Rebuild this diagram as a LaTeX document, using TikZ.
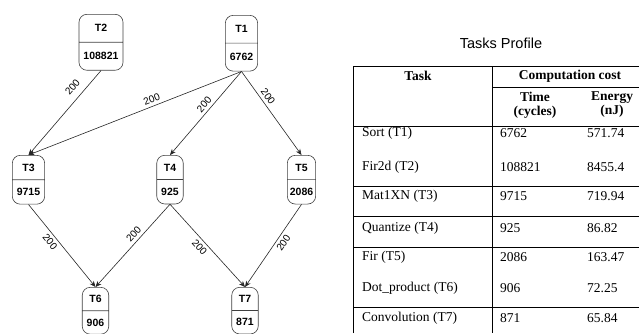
\documentclass[tikz,border=0pt]{standalone}
\usepackage{fontspec}
\setmainfont{Liberation Serif}
\setsansfont{Liberation Sans}
\usetikzlibrary{shapes.multipart,arrows.meta}

\begin{document}
\begin{tikzpicture}[x=1pt,y=-1pt]
  % Colors
  \colorlet{boxcolor}{black!75}
  \colorlet{edgecolor}{black!85}

  % Styles
  \tikzstyle{task}=[rectangle split,rectangle split parts=2,draw=boxcolor,
    rounded corners=8pt,anchor=north,inner xsep=4.5pt,line width=0.6pt,
    font=\sffamily\bfseries\fontsize{10.5}{12}\selectfont]
  \tikzstyle{tall}=[inner ysep=10pt]
  \tikzstyle{mid}=[inner ysep=8.2pt]
  \tikzstyle{low}=[inner ysep=7.7pt]
  \tikzstyle{comm}=[draw=edgecolor,line width=0.6pt,
    -{Stealth[length=6pt,width=5pt]}]
  \tikzstyle{weight}=[sloped,inner sep=1pt,
    font=\sffamily\fontsize{10}{12}\selectfont]
  \tikzstyle{cell}=[anchor=west,inner sep=0pt,
    font=\fontsize{13.5}{15}\selectfont]
  \tikzstyle{head}=[inner sep=0pt,align=center,
    font=\bfseries\fontsize{13.5}{14}\selectfont]
  \tikzstyle{rule}=[line width=1pt]

  \useasboundingbox (0,0) rectangle (639,333);

  % The task graph
  \node[task,tall] (t2) at (101,14) {T2 \nodepart{two} 108821};
  \node[task,tall] (t1) at (241.5,15) {T1 \nodepart{two} 6762};
  \node[task,mid] (t3) at (28.5,155) {T3 \nodepart{two} 9715};
  \node[task,mid] (t4) at (170,155) {T4 \nodepart{two} 925};
  \node[task,mid,inner xsep=2.5pt] (t5) at (301.5,155) {T5 \nodepart{two} 2086};
  \node[task,low] (t6) at (95.5,287) {T6 \nodepart{two} 906};
  \node[task,low] (t7) at (245,287) {T7 \nodepart{two} 871};

  \draw[comm] (t2.south) -- node[weight,above=6pt,pos=0.28] {200} (t3.north);
  \draw[comm] (t1.south) -- node[weight,above=2pt,pos=0.41] {200} (t3.north);
  \draw[comm] (t1.south) -- node[weight,above=2pt,pos=0.45] {200} (t4.north);
  \draw[comm] (t1.south) -- node[weight,above=2pt,pos=0.35] {200} (t5.north);
  \draw[comm] (t3.south) -- node[weight,below=2pt,pos=0.4] {200} (t6.north);
  \draw[comm] (t4.south) -- node[weight,above=2pt,pos=0.42] {200} (t6.north);
  \draw[comm] (t4.south) -- node[weight,below=2pt,pos=0.46] {200} (t7.north);
  \draw[comm] (t5.south) -- node[weight,below=2pt,pos=0.42] {200} (t7.north);

  % The profile table
  \node[font=\sffamily\fontsize{14.5}{16}\selectfont] (title) at (501,43)
    {Tasks Profile};

  \draw[rule] (353,333) -- (353,66) -- (639,66);
  \draw[rule] (492,66) -- (492,333);
  \draw[rule] (492,87) -- (639,87);
  \foreach \y in {126,186,216,247,307}
    \draw[rule] (353,\y) -- (639,\y);

  \node[head] (hdtask) at (418,76) {Task};
  \node[head] (hdcost) at (570,76) {Computation cost};
  \node[head] (hdtime) at (535,105) {Time\\(cycles)};
  \node[head] (hdnrg) at (612,105) {Energy\\(nJ)};

  \foreach \i/\y/\name/\cyc/\nj in {1/133/{Sort (T1)}/6762/571.74,
      2/167/{Fir2d (T2)}/108821/8455.4, 3/196/{Mat1XN (T3)}/9715/719.94,
      4/228/{Quantize (T4)}/925/86.82, 5/257/{Fir (T5)}/2086/163.47,
      6/288/{Dot\_product (T6)}/906/72.25,
      7/318/{Convolution (T7)}/871/65.84}
  {
    \node[cell] (name\i) at (362,\y) {\name};
    \node[cell] (time\i) at (500,\y) {\cyc};
    \node[cell] (nrg\i) at (587,\y) {\nj};
  }
\end{tikzpicture}
\end{document}
